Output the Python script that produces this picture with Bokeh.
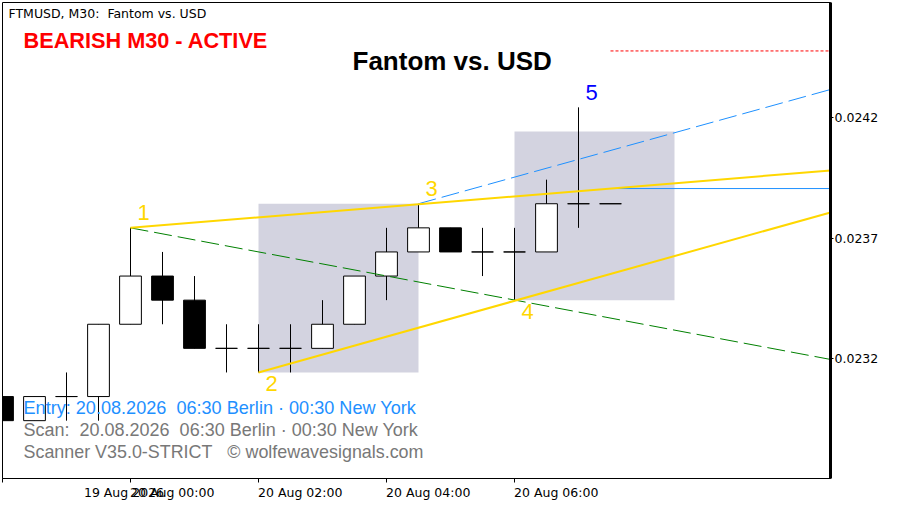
from bokeh.core.properties import value
from bokeh.embed import file_html
from bokeh.models import AllLabels, ColumnDataSource, FixedTicker, Label, Range1d
from bokeh.plotting import figure
from bokeh.resources import INLINE

# candles, 30 minutes each, starting 19 Aug 22:00
opens = [0.023044, 0.022944, 0.023044, 0.023044, 0.023344, 0.023544, 0.023444, 0.023244, 0.023244, 0.023244,
         0.023244, 0.023344, 0.023544, 0.023644, 0.023744, 0.023644, 0.023644, 0.023644, 0.023844, 0.023844]
highs = [0.023044, 0.023044, 0.023144, 0.023344, 0.023744, 0.023644, 0.023544, 0.023344, 0.023344, 0.023344,
         0.023444, 0.023544, 0.023744, 0.023844, 0.023744, 0.023744, 0.023744, 0.023944, 0.024244, 0.023844]
lows = [0.022944, 0.022944, 0.022944, 0.022944, 0.023344, 0.023344, 0.023244, 0.023144, 0.023144, 0.023144,
        0.023244, 0.023344, 0.023444, 0.023644, 0.023644, 0.023544, 0.023444, 0.023644, 0.023744, 0.023844]
closes = [0.022944, 0.023044, 0.023044, 0.023344, 0.023544, 0.023444, 0.023244, 0.023244, 0.023244, 0.023244,
          0.023344, 0.023544, 0.023644, 0.023744, 0.023644, 0.023644, 0.023644, 0.023844, 0.023844, 0.023844]

time_ticks = [0, 4, 8, 12, 16]
time_labels = ["19 Aug 2026", "20 Aug 00:00", "20 Aug 02:00", "20 Aug 04:00", "20 Aug 06:00"]
price_ticks = [0.0232, 0.0237, 0.0242]

# wolfe wave points
wave_x = [4, 8, 13, 16, 18]
wave_y = [0.023744, 0.023144, 0.023844, 0.023444, 0.024244]
wave_names = ["1", "2", "3", "4", "5"]
wave_colors = ["#FFD700", "#FFD700", "#FFD700", "#FFD700", "#0000FF"]
wave_dy = [-15, 11, -15, 11, -15]

# zones
zone_left = [8, 16]
zone_right = [13, 21]
zone_top = [0.023844, 0.024144]
zone_bottom = [0.023144, 0.023444]

RIGHT = 25.875  # last visible bar position
line_13_y = [0.023744, 0.023982]
line_24_y = [0.023144, 0.023808]
line_14_y = [0.023744, 0.023198]
line_target_y = [0.023844, 0.024318]
entry_level = 0.023907
stop_level = 0.024478

p = figure(width=899, height=505, output_backend="svg", toolbar_location=None,
           x_range=Range1d(0, RIGHT), y_range=Range1d(0.022704, 0.024679),
           y_axis_location="right", min_border_left=2, min_border_top=2,
           min_border_right=69, min_border_bottom=27,
           background_fill_color="white", border_fill_color="white")
p.grid.visible = False
p.outline_line_color = "black"
p.outline_line_width = 1

ax = p.xaxis[0]
ax.ticker = FixedTicker(ticks=time_ticks)
# axis labels are centred on the tick, the padding in front makes them start at it
pad = "\u00a0" * 21
ax.major_label_overrides = {t: pad + name for t, name in zip(time_ticks, time_labels)}
ax.major_label_policy = AllLabels()
ax.major_label_text_font = "DejaVu Sans"
ax.major_label_text_font_size = "12.5px"
ax.major_label_text_color = "black"
ax.major_label_standoff = 2
ax.major_tick_in = 0
ax.major_tick_out = 4
ax.minor_tick_line_color = None
ax.axis_line_color = "black"
ax.major_tick_line_color = "black"

ay = p.yaxis[0]
ay.ticker = FixedTicker(ticks=price_ticks)
ay.major_label_overrides = {t: f"{t:.4f}" for t in price_ticks}
ay.major_label_text_font = "DejaVu Sans"
ay.major_label_text_font_size = "12.5px"
ay.major_label_text_color = "black"
ay.major_label_standoff = 1
ay.major_tick_in = 0
ay.major_tick_out = 3
ay.minor_tick_line_color = None
ay.axis_line_color = "black"
ay.axis_line_width = 3
ay.major_tick_line_color = "black"

p.quad(left=zone_left, right=zone_right, top=zone_top, bottom=zone_bottom,
       fill_color="#D3D3E0", line_color=None)

idx = list(range(len(opens)))
src = ColumnDataSource(data=dict(
    x=idx, o=opens, h=highs, l=lows, c=closes,
    top=[max(a, b) for a, b in zip(opens, closes)],
    bottom=[min(a, b) for a, b in zip(opens, closes)],
    fill=["black" if c < o else "white" for o, c in zip(opens, closes)],
))
p.segment("x", "h", "x", "l", source=src, line_color="black", line_width=1)
p.vbar("x", 0.68, "top", "bottom", source=src, fill_color="fill", line_color="black", line_width=1)

p.line([wave_x[0], RIGHT], line_14_y, line_color="#008000", line_width=1, line_dash="18 6")
p.line([wave_x[2], RIGHT], line_target_y, line_color="#1E90FF", line_width=1, line_dash="18 6")
p.line([19, RIGHT], [entry_level, entry_level], line_color="#1E90FF", line_width=1)
p.line([19, RIGHT], [stop_level, stop_level], line_color="#FF0000", line_width=1, line_dash="3 2")
p.line([wave_x[0], RIGHT], line_13_y, line_color="#FFD700", line_width=2)
p.line([wave_x[1], RIGHT], line_24_y, line_color="#FFD700", line_width=2)

p.text(wave_x, wave_y, text=wave_names, text_color=wave_colors, text_font=value("Liberation Sans"),
       text_font_size="22px", text_align="center", text_baseline="alphabetic",
       x_offset=13, y_offset=wave_dy)


def add_text(x, y, text, color, size, font, style="normal"):
    # x, y in page pixels from the top left
    p.add_layout(Label(x=x - 2, y=486 - y, x_units="screen", y_units="screen",
                       text=text, text_color=color, text_font=font, text_font_size=size,
                       text_font_style=style, text_baseline="alphabetic"))


add_text(8, 21, "FTMUSD, M30:\u00a0 Fantom vs. USD", "black", "12.5px", "DejaVu Sans")
add_text(23, 48, "BEARISH M30 - ACTIVE", "#FF0000", "21.7px", "Liberation Sans", "bold")
add_text(352, 68, "Fantom vs. USD", "black", "26px", "Liberation Sans", "bold")
add_text(23, 415, "Entry: 20.08.2026\u00a0 06:30 Berlin \u00b7 00:30 New York", "#1E90FF", "18.1px", "Liberation Sans")
add_text(23, 437, "Scan:\u00a0 20.08.2026\u00a0 06:30 Berlin \u00b7 00:30 New York", "#787878", "18px", "Liberation Sans")
add_text(23, 459, "Scanner V35.0-STRICT\u00a0 \u00a0\u00a9 wolfewavesignals.com", "#787878", "17.9px", "Liberation Sans")

open("out.html", "w").write(file_html(p, INLINE))
